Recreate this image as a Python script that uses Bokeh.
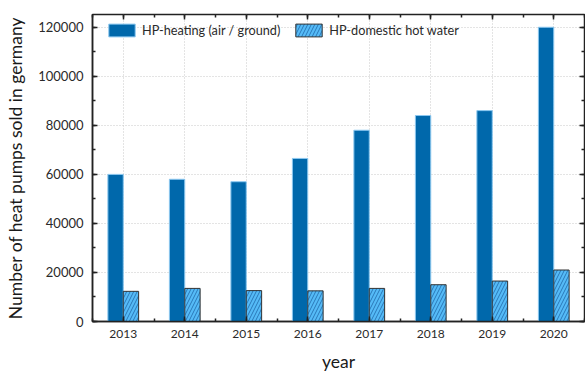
from bokeh.plotting import figure
from bokeh.models import (LinearAxis, SingleIntervalTicker, Range1d, ColumnDataSource,
                          Legend, LegendItem, BasicTickFormatter)
from bokeh.transform import dodge
from bokeh.embed import file_html
from bokeh.resources import INLINE

years = [2013, 2014, 2015, 2016, 2017, 2018, 2019, 2020]
hp_heating = [60000, 58000, 57000, 66500, 78000, 84000, 86000, 120000]
hp_hot_water = [12300, 13500, 12600, 12500, 13500, 15000, 16500, 21000]

FONT = "Lato"
src = ColumnDataSource(dict(year=years, heating=hp_heating, water=hp_hot_water))

p = figure(width=585, height=374, output_backend="svg", toolbar_location=None,
           x_range=Range1d(2012.5, 2020.5), y_range=Range1d(0, 125200),
           min_border_left=92, min_border_right=1, min_border_top=14, min_border_bottom=53)
p.outline_line_color = "#222222"
p.outline_line_width = 1.5
p.background_fill_color = "white"

xt = SingleIntervalTicker(interval=1, num_minor_ticks=2)
yt = SingleIntervalTicker(interval=20000, num_minor_ticks=2)
p.xaxis.ticker = xt
p.yaxis.ticker = yt
p.xaxis.formatter = BasicTickFormatter(use_scientific=False)
p.yaxis.formatter = BasicTickFormatter(use_scientific=False)
p.xgrid.ticker = xt
p.ygrid.ticker = yt
for g in (p.xgrid, p.ygrid):
    g.grid_line_color = "#c8c8c8"
    g.grid_line_dash = "1 2"
    g.grid_line_width = 1

for ax in (p.xaxis[0], p.yaxis[0]):
    ax.major_tick_in = 5
    ax.major_tick_out = 0
    ax.minor_tick_in = 3
    ax.minor_tick_out = 0
    ax.axis_line_color = "#222222"
    ax.axis_line_width = 1.5
    ax.major_tick_line_color = "#222222"
    ax.minor_tick_line_color = "#222222"
    ax.major_tick_line_width = 1.5
    ax.minor_tick_line_width = 1.5
    ax.major_label_text_font = FONT
    ax.major_label_text_color = "#2a2a2a"
    ax.axis_label_text_font = FONT
    ax.axis_label_text_font_size = "17.5px"
    ax.axis_label_text_font_style = "normal"
    ax.axis_label_text_color = "#1a1a1a"

p.xaxis.major_label_text_font_size = "12px"
p.yaxis.major_label_text_font_size = "13px"
p.xaxis.axis_label = "year"
p.yaxis.axis_label = "Number of heat pumps sold in germany"
p.xaxis.major_label_standoff = 8
p.yaxis.major_label_standoff = 9
p.xaxis.axis_label_standoff = 10
p.yaxis.axis_label_standoff = 9

for loc, ticker in (("right", yt), ("above", xt)):
    ax = LinearAxis(ticker=ticker)
    ax.major_tick_in = 5
    ax.major_tick_out = 0
    ax.minor_tick_in = 3
    ax.minor_tick_out = 0
    ax.axis_line_color = None
    ax.major_tick_line_color = "#222222"
    ax.minor_tick_line_color = "#222222"
    ax.major_tick_line_width = 1.5
    ax.minor_tick_line_width = 1.5
    ax.major_label_text_font_size = "0px"
    ax.major_label_text_color = None
    ax.major_label_standoff = 0
    p.add_layout(ax, loc)

r1 = p.vbar(x=dodge("year", -0.125, range=p.x_range), top="heating", width=0.25, source=src,
            fill_color="#0068ab", line_color="#8cc8f0", line_width=1)
r2 = p.vbar(x=dodge("year", 0.125, range=p.x_range), top="water", width=0.25, source=src,
            fill_color="#55bbf7", line_color="#333333", line_width=1,
            hatch_pattern="/", hatch_color="#2a78b8", hatch_scale=7, hatch_weight=1)

legend = Legend(items=[LegendItem(label="HP-heating (air / ground)", renderers=[r1]),
                       LegendItem(label="HP-domestic hot water", renderers=[r2])],
                orientation="horizontal", location=(13, 283))
legend.border_line_color = None
legend.background_fill_alpha = 0
legend.padding = 0
legend.margin = 0
legend.spacing = 12
legend.glyph_width = 33
legend.glyph_height = 16
legend.label_standoff = 4
legend.label_text_font = FONT
legend.label_text_font_size = "12.7px"
legend.label_text_color = "#2a2a2a"
p.add_layout(legend, "center")

open("out.html", "w").write(file_html(p, INLINE))
